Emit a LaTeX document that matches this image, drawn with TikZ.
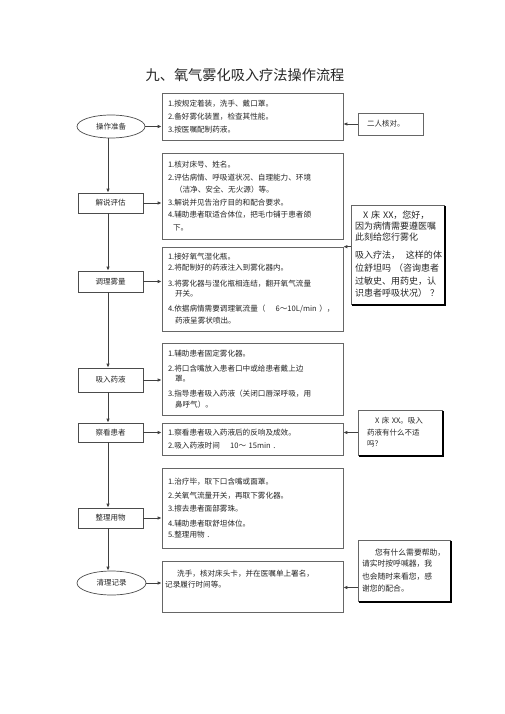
\documentclass[tikz,border=0pt]{standalone}
\usepackage{fontspec}
\setmainfont{Noto Sans CJK SC}
\usetikzlibrary{arrows.meta,shapes.geometric}
\begin{document}
\begin{tikzpicture}[x=1pt,y=1pt,
  every node/.style={inner sep=0pt, text=black!85},
  cbox/.style={draw=black!60, line width=0.6pt, minimum width=181pt, text width=169pt,
    inner xsep=6pt, align=left, font=\fontsize{7.6}{11}\selectfont},
  lbox/.style={draw=black!70, line width=0.7pt, minimum width=65pt, font=\fontsize{7.5}{9}\selectfont},
  lell/.style={ellipse, draw=black!70, line width=0.7pt, font=\fontsize{7.5}{9}\selectfont},
  rbox/.style={draw=black!60, line width=0.5pt, align=left},
  shadowline/.style={draw=black, line width=1.6pt},
  flow/.style={draw=black!75, line width=0.9pt, -{Latex[length=4pt,width=3.5pt]}},
]
\useasboundingbox (0,0) rectangle (505,-714);
\fill[white] (0,0) rectangle (505,-714);

% title
\node[font=\fontsize{14.2}{16}\selectfont] (title) at (245,-75) {九、氧气雾化吸入疗法操作流程};

% content boxes
\node[cbox, minimum height=47pt, font=\fontsize{7.6}{13}\selectfont] (b1) at (252.5,-116.5)
  {1.按规定着装，洗手、戴口罩。\\2.备好雾化装置，检查其性能。\\3.按医嘱配制药液。};
\node[cbox, minimum height=86pt, font=\fontsize{7.6}{12.5}\selectfont] (b2) at (252.5,-196)
  {1.核对床号、姓名。\\2.评估病情、呼吸道状况、自理能力、环境\\\hspace*{7pt}（洁净、安全、无火源）等。\\3.解说并见告治疗目的和配合要求。\\4.辅助患者取适合体位，把毛巾铺于患者颌\\\hspace*{5pt}下。};
\node[cbox, minimum height=84pt] (b3) at (252.5,-289)
  {1.接好氧气湿化瓶。\\2.将配制好的药液注入到雾化器内。\\[4.5pt]3.将雾化器与湿化瓶相连结，翻开氧气流量\\[-0.5pt]\hspace*{7pt}开关。\\[4pt]4.依据病情需要调理氧流量（~~~~6～10L/min~），\\[1pt]\hspace*{7pt}药液呈雾状喷出。};
\node[cbox, minimum height=72pt] (b4) at (252.5,-379)
  {1.辅助患者固定雾化器。\\[4pt]2.将口含嘴放入患者口中或给患者戴上边\\[-1pt]\hspace*{7pt}罩。\\[4pt]3.指导患者吸入药液（关闭口唇深呼吸，用\\\hspace*{7pt}鼻呼气）。};
\node[cbox, minimum height=32pt, font=\fontsize{7.6}{13}\selectfont] (b5) at (252.5,-439)
  {1.察看患者吸入药液后的反响及成效。\\2.吸入药液时间~~~~10～~15min~.};
\node[cbox, minimum height=80pt, font=\fontsize{7.6}{13}\selectfont] (b6) at (252.5,-508)
  {1.治疗毕，取下口含嘴或面罩。\\[1pt]2.关氧气流量开关，再取下雾化器。\\3.擦去患者面部雾珠。\\[2pt]4.辅助患者取舒坦体位。\\[-2pt]5.整理用物~.};
\node[cbox, minimum height=51pt] (b7) at (252.5,-586.5) {};
\node[anchor=north west, align=left, font=\fontsize{7.6}{11}\selectfont] (t7) at (165,-570)
  {\hspace*{12pt}洗手，核对床头卡，并在医嘱单上署名，\\记录履行时间等。};

% left labels
\node[lell, minimum width=68pt, minimum height=23pt] (e1) at (111,-126.5) {操作准备};
\node[lbox, minimum height=20pt] (L2) at (110.5,-203) {解说评估};
\node[lbox, minimum height=21pt] (L3) at (110.5,-281.5) {调理雾量};
\node[lbox, minimum height=24pt] (L4) at (110.5,-380) {吸入药液};
\node[lbox, minimum height=19pt] (L5) at (110.5,-432.5) {察看患者};
\node[lbox, minimum height=20pt] (L6) at (110.5,-518) {整理用物};
\node[lell, minimum width=69pt, minimum height=24pt] (e2) at (111.5,-583) {清理记录};

% right boxes
\node[rbox, minimum width=65pt, minimum height=22pt, text width=47pt, inner xsep=9pt,
  font=\fontsize{7.5}{9}\selectfont] (r0) at (390.5,-124) {二人核对。};
\node[rbox, minimum width=93pt, minimum height=99pt, text width=85pt, inner xsep=4pt,
  font=\fontsize{9}{12}\selectfont] (r1) at (397.5,-254.5)
  {\hspace*{8pt}X~床~XX，您好，\\[-1pt]因为病情需要遵医嘱\\[-1pt]此刻给您行雾化\\[6pt]吸入疗法，~~这样的体\\[1pt]位舒坦吗~（咨询患者\\[1pt]过敏史、用药史，认\\识患者呼吸状况）~？};
\node[rbox, minimum width=84pt, minimum height=45pt, text width=66pt, inner xsep=9pt,
  font=\fontsize{7.5}{11.5}\selectfont] (r2) at (400,-432.5)
  {\hspace*{8pt}X~床~XX。吸入\\药液有什么不适\\吗？};
\node[rbox, minimum width=92pt, minimum height=61pt, text width=84pt, inner xsep=4pt,
  font=\fontsize{7.8}{12}\selectfont] (r3) at (404,-570.5)
  {\hspace*{13pt}您有什么需要帮助，\\[-1pt]请实时按呼喊器，我\\[1pt]也会随时来看您，感\\谢您的配合。};

% shadows of right boxes
\foreach \n in {r1,r2,r3}
  \draw[shadowline] ([xshift=0.8pt,yshift=-1pt]\n.north east) -- ([xshift=0.8pt,yshift=-0.8pt]\n.south east) -- ([xshift=1pt,yshift=-0.8pt]\n.south west);

% vertical flow
\coordinate (vx) at (108,0);
\draw[flow] (vx |- e1.south) -- (vx |- L2.north);
\draw[flow] (vx |- L2.south) -- (vx |- L3.north);
\draw[flow] (vx |- L3.south) -- (vx |- L4.north);
\draw[flow] (vx |- L4.south) -- (vx |- L5.north);
\draw[flow] (vx |- L5.south) -- (vx |- L6.north);
\draw[flow] (vx |- L6.south) -- (vx |- e2.north);

% left to content
\draw[flow] (e1.east) -- (e1.east -| b1.west);
\draw[flow] (L2.east) -- (L2.east -| b2.west);
\draw[flow] (L3.east) -- (L3.east -| b3.west);
\draw[flow] (L4.east) -- (L4.east -| b4.west);
\draw[flow] (L5.east) -- (L5.east -| b5.west);
\draw[flow] (L6.east) -- (L6.east -| b6.west);
\draw[flow] (e2.east) -- (e2.east -| b7.west);

% right to content
\draw[flow] (r0.west) -- (r0.west -| b1.east);
\draw[flow] (r1.west |- b3.north east) -- (b3.north east);
\draw[flow] (r2.west) -- (r2.west -| b5.east);
\coordinate (a3) at ([yshift=-17pt]r3.west);
\draw[flow] (a3) -- (a3 -| b7.east);
\end{tikzpicture}
\end{document}
